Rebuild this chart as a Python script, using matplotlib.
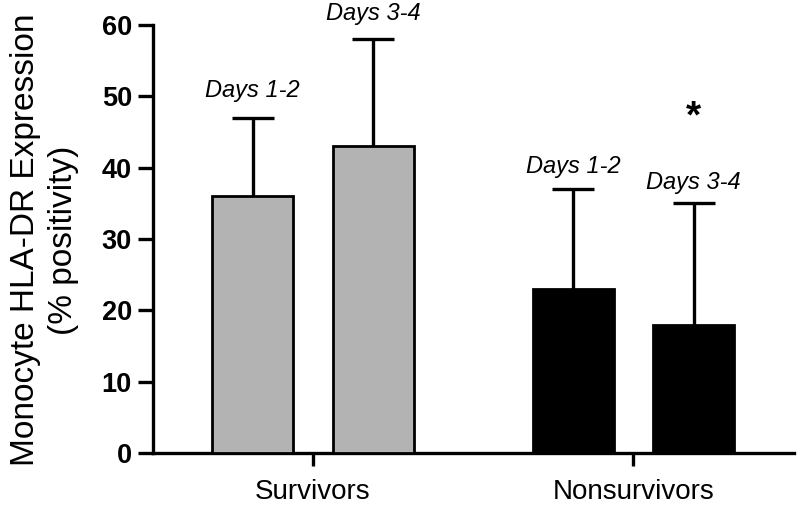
import numpy as np
import matplotlib
matplotlib.use("Agg")
import matplotlib.pyplot as plt

plt.rcParams['font.family'] = ['Liberation Sans', 'DejaVu Sans']

groups = ["Survivors", "Nonsurvivors"]
periods = ["Days 1-2", "Days 3-4"]
means = {"Survivors": [36, 43], "Nonsurvivors": [23, 18]}
sd_up = {"Survivors": [11, 15], "Nonsurvivors": [14, 17]}
colors = {"Survivors": "#b3b3b3", "Nonsurvivors": "black"}
label_pad = {"Survivors": [11, 10], "Nonsurvivors": [8, 7]}
star_group, star_period, star_y = "Nonsurvivors", 1, 47

fig = plt.figure(figsize=(8, 5.09), dpi=100)
ax = fig.add_axes([0.191, 0.110, 0.801, 0.841])

width = 0.252
offsets = [-0.188, 0.188]

for gi, g in enumerate(groups):
    xs = gi + np.array(offsets)
    vals = np.array(means[g])
    errs = np.array(sd_up[g])
    ax.bar(xs, vals, width=width, color=colors[g], edgecolor="black",
           linewidth=2, zorder=3)
    eb = ax.errorbar(xs, vals, yerr=[np.zeros_like(errs), errs], fmt="none",
                     ecolor="black", elinewidth=2.4, capsize=15, capthick=2.4,
                     zorder=2)
    for cl in eb[1]:
        if np.allclose(cl.get_ydata(), vals):
            cl.set_visible(False)
    for pi, p in enumerate(periods):
        ax.annotate(p, (xs[pi], vals[pi] + errs[pi]), xytext=(0, label_pad[g][pi]),
                    textcoords="offset points", ha="center", va="bottom",
                    fontsize=17, style="italic")

ax.text(groups.index(star_group) + offsets[star_period], star_y, "*",
        ha="center", va="center", fontsize=28, fontweight="bold")

ax.set_xlim(-0.5, 1.5)
ax.set_ylim(0, 60)
ax.set_yticks(np.arange(0, 61, 10))
ax.set_xticks(range(len(groups)))
ax.set_xticklabels(groups, fontsize=20)
for lab in ax.get_yticklabels():
    lab.set_fontsize(19.5)
    lab.set_fontweight("bold")

ax.spines["top"].set_visible(False)
ax.spines["right"].set_visible(False)
ax.spines["left"].set_linewidth(2.4)
ax.spines["bottom"].set_linewidth(2.4)
ax.tick_params(axis="y", length=11, width=2.4, pad=4)
ax.tick_params(axis="x", length=9, width=2.4, pad=10)

fig.text(0.056, 0.528, "Monocyte HLA-DR Expression\n(% positivity)",
         rotation=90, ha="center", va="center", fontsize=24, linespacing=1.3)

fig.savefig("out.png", dpi=100)
